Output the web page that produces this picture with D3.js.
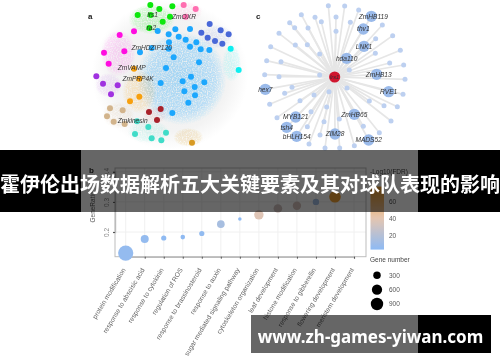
<!DOCTYPE html>
<html>
<head>
<meta charset="utf-8">
<script src="https://cdn.jsdelivr.net/npm/d3@7"></script>
<style>
  html, body { margin: 0; padding: 0; background: #fff; }
  svg { display: block; }
  text { font-family: "Liberation Sans", Arial, sans-serif; }
</style>
</head>
<body>
<div class="canvas"></div>
<script>
const titleText = "霍伊伦出场数据解析五大关键要素及其对球队表现的影响";
const siteText = "www.zh-games-yiwan.com";

// panel a: modules of the co-expression network (layout units)
const moduleNames = ["green", "pink", "sky", "slate", "cyan", "magenta", "purple", "orange", "tan", "red", "teal", "gold"];
const moduleColors = ["#0be80b", "#ff6eb0", "#1ea7fd", "#4a68d8", "#10eef0", "#ff10e0", "#a030e0", "#f7a010", "#d2b48c", "#a8202c", "#40dcc8", "#d89a20"];
const moduleNodes = [
  [[211, 15], [238, 27], [277, 19], [173, 45], [270, 50], [248, 65], [212, 45], [208, 84]],
  [[311, 15], [347, 27], [317, 50]],
  [[233, 93], [266, 103], [286, 88], [330, 87], [296, 110], [317, 119], [349, 127], [267, 127], [330, 140], [362, 148], [388, 150], [266, 146], [215, 144], [180, 157], [281, 172], [357, 187], [258, 204], [333, 230], [308, 244], [242, 249], [373, 247], [344, 261], [313, 274], [345, 286], [325, 308], [277, 339]],
  [[389, 72], [422, 91], [446, 103], [364, 98], [383, 113], [405, 123], [427, 131]],
  [[452, 146], [476, 210]],
  [[119, 105], [162, 94], [72, 158], [133, 154], [86, 191]],
  [[49, 229], [69, 251], [113, 256], [93, 283]],
  [[162, 206], [178, 236], [150, 304], [178, 290]],
  [[90, 325], [128, 331], [81, 349], [101, 365], [134, 372]],
  [[207, 336], [242, 327], [231, 360]],
  [[171, 364], [205, 381], [165, 402], [258, 398], [215, 415], [244, 421]],
  [[336, 428]]
];
// soft clouds of the many tiny genes: module, centre x, centre y, rx, ry, strength
const moduleClouds = [
  ["sky", 305, 235, 135, 140, 0.36],
  ["green", 215, 58, 70, 45, 0.2],
  ["pink", 320, 35, 48, 30, 0.14],
  ["magenta", 115, 160, 52, 70, 0.15],
  ["purple", 85, 255, 40, 36, 0.12],
  ["orange", 178, 275, 52, 65, 0.2],
  ["tan", 115, 345, 48, 40, 0.18],
  ["slate", 410, 110, 48, 36, 0.12],
  ["cyan", 455, 190, 28, 55, 0.16],
  ["teal", 205, 395, 62, 34, 0.16],
  ["gold", 325, 412, 45, 28, 0.22],
  ["red", 225, 345, 36, 25, 0.08]
];
const networkLabels = ["lrs1", "ZmOXR", "ra2", "ZmHDZIP120", "ZmVAMP", "ZmPRP4K", "Zmkinesin"];
const networkLabelSpots = [[218, 45], [312, 50], [214, 84], [215, 143], [155, 204], [174, 236], [158, 362]];

// panel c: star network around the hub
const hub = { name: "lrs1", at: [254, 231] };
const bigNames = ["ZmHB119", "thv1", "LNK1", "hda110", "ZmHB13", "RVE1", "ZmHB65", "MADS52", "ZIM28", "bHLH154", "tsh4", "MYB121", "hex7"];
const bigNodes = [[364, 49], [340, 87], [342, 139], [290, 175], [380, 223], [416, 275], [313, 343], [356, 420], [255, 402], [140, 409], [110, 382], [137, 351], [46, 268]];
const smallNodes = [
  [235, 17], [284, 18], [326, 30], [154, 44], [119, 68], [87, 100], [62, 140], [50, 182], [44, 224], [59, 313], [81, 353],
  [397, 75], [428, 107], [451, 151], [461, 195], [465, 238], [459, 283], [442, 320], [423, 363], [388, 398], [177, 432], [225, 444], [269, 444], [313, 437],
  [195, 52], [258, 51], [214, 65], [301, 67], [134, 83], [174, 84], [258, 94], [136, 135], [172, 134], [209, 162], [93, 185], [87, 230],
  [126, 262], [150, 302], [104, 280], [377, 116], [376, 160], [419, 189], [298, 210], [209, 225], [291, 264], [237, 275], [192, 285],
  [358, 303], [230, 321], [402, 317], [183, 335], [268, 357], [222, 365], [340, 379], [172, 380], [210, 405]
];

// panel b: GO enrichment bubbles
const goTerms = ["protein modification", "response to abscisic acid", "response to cytokinin", "regulation of ROS", "response to brassinosteroid", "response to auxin", "sugar mediated signaling pathway", "cytoskeleton organization", "leaf development", "histone modification", "response to gibberellin", "flowering development", "meristem development"];
const geneRatio = [0.13, 0.177, 0.18, 0.183, 0.195, 0.226, 0.243, 0.257, 0.278, 0.287, 0.3, 0.317, null];
const geneCount = [1545, 430, 180, 140, 180, 390, 85, 590, 500, 470, 270, 900, null];
const logFdr = [6, 6, 4, 4, 5, 14, 3, 38, 32, 34, 12, 75, null];
const ratioTicks = [0.2, 0.3, 0.4];
const fdrTicks = [20, 40, 60];
const sizeTicks = [300, 600, 900];

const svg = d3.select(".canvas").append("svg").attr("width", 500).attr("height", 362);
const defs = svg.append("defs");

// speckle so the gene clouds read as dots instead of flat blobs
const speckle = defs.append("filter").attr("id", "speckle").attr("x", "-10%").attr("y", "-10%").attr("width", "120%").attr("height", "120%");
speckle.append("feTurbulence").attr("type", "fractalNoise").attr("baseFrequency", 0.8).attr("numOctaves", 1).attr("seed", 4).attr("result", "n");
speckle.append("feColorMatrix").attr("in", "n").attr("type", "matrix")
  .attr("values", "0 0 0 0 0  0 0 0 0 0  0 0 0 0 0  0 0 0 3 -0.7").attr("result", "m");
speckle.append("feComposite").attr("in", "SourceGraphic").attr("in2", "m").attr("operator", "in");

const soft = defs.append("filter").attr("id", "soft");
soft.append("feGaussianBlur").attr("stdDeviation", 0.45);

const module = d3.scaleOrdinal(moduleNames, moduleColors);

const haloGrad = defs.append("radialGradient").attr("id", "halo");
haloGrad.append("stop").attr("offset", "0%").attr("stop-color", "#eeeeee");
haloGrad.append("stop").attr("offset", "75%").attr("stop-color", "#f3f3f3");
haloGrad.append("stop").attr("offset", "100%").attr("stop-color", "#ffffff");

moduleClouds.forEach(c => {
  const grad = defs.append("radialGradient").attr("id", `cloud-${c[0]}`);
  grad.append("stop").attr("offset", "0%").attr("stop-color", module(c[0])).attr("stop-opacity", c[5]);
  grad.append("stop").attr("offset", "75%").attr("stop-color", module(c[0])).attr("stop-opacity", c[5] * 0.75);
  grad.append("stop").attr("offset", "100%").attr("stop-color", module(c[0])).attr("stop-opacity", 0);
});

const picture = svg.append("g").attr("filter", "url(#soft)");

// ---- panel a ----
const ax = d3.scaleLinear().domain([0, 510]).range([80, 250]);
const ay = d3.scaleLinear().domain([0, 450]).range([0, 150]);
const panelA = picture.append("g");

panelA.append("ellipse")
  .attr("cx", ax(270)).attr("cy", ay(225))
  .attr("rx", ax(235) - ax(0)).attr("ry", ay(225) - ay(0))
  .attr("fill", "url(#halo)");

panelA.append("g").attr("filter", "url(#speckle)")
  .selectAll("ellipse").data(moduleClouds).join("ellipse")
  .attr("cx", d => ax(d[1])).attr("cy", d => ay(d[2]))
  .attr("rx", d => ax(d[3]) - ax(0)).attr("ry", d => ay(d[4]) - ay(0))
  .attr("fill", d => `url(#cloud-${d[0]})`);

moduleNames.forEach((name, i) => {
  panelA.append("g").selectAll("circle").data(moduleNodes[i]).join("circle")
    .attr("cx", d => ax(d[0])).attr("cy", d => ay(d[1]))
    .attr("r", 3)
    .attr("fill", module(name));
});

panelA.append("g").selectAll("text").data(networkLabels).join("text")
  .attr("x", (d, i) => ax(networkLabelSpots[i][0]))
  .attr("y", (d, i) => ay(networkLabelSpots[i][1]) + 2.3)
  .attr("text-anchor", "middle")
  .attr("font-size", 6.6).attr("font-style", "italic").attr("fill", "#333")
  .text(d => d);

picture.append("text").attr("x", 88).attr("y", 19).attr("font-size", 8).attr("font-weight", "bold").attr("fill", "#222").text("a");

// ---- panel c ----
const cx = d3.scaleLinear().domain([0, 510]).range([250, 420]);
const cy = d3.scaleLinear().domain([0, 450]).range([0, 150]);
const panelC = picture.append("g");

panelC.append("g").selectAll("line").data(smallNodes.concat(bigNodes)).join("line")
  .attr("x1", cx(hub.at[0])).attr("y1", cy(hub.at[1]))
  .attr("x2", d => cx(d[0])).attr("y2", d => cy(d[1]))
  .attr("stroke", "#e6e6e6").attr("stroke-width", 1.7);

panelC.append("g").selectAll("circle").data(smallNodes).join("circle")
  .attr("cx", d => cx(d[0])).attr("cy", d => cy(d[1]))
  .attr("r", 2.5).attr("fill", "#bdd0f0");

panelC.append("g").selectAll("circle").data(bigNodes).join("circle")
  .attr("cx", d => cx(d[0])).attr("cy", d => cy(d[1]))
  .attr("r", 5.7).attr("fill", "#9abaea");

panelC.append("circle")
  .attr("cx", cx(hub.at[0])).attr("cy", cy(hub.at[1]))
  .attr("r", 5.6).attr("fill", "#d0122e");

panelC.append("g").selectAll("text").data(bigNames).join("text")
  .attr("x", (d, i) => cx(bigNodes[i][0]) + (d === "ZmHB119" ? 2 : d === "ZmHB13" ? 2 : 0))
  .attr("y", (d, i) => cy(bigNodes[i][1]) + 2.3)
  .attr("text-anchor", "middle")
  .attr("font-size", 6.6).attr("font-style", "italic").attr("fill", "#333")
  .text(d => d);

panelC.append("text")
  .attr("x", cx(hub.at[0])).attr("y", cy(hub.at[1]) + 2)
  .attr("text-anchor", "middle").attr("font-size", 5.8).attr("font-style", "italic").attr("fill", "#333")
  .text(hub.name);

picture.append("text").attr("x", 256).attr("y", 19).attr("font-size", 8).attr("font-weight", "bold").attr("fill", "#222").text("c");

// ---- panel b ----
const plot = { left: 115, right: 366, top: 168, bottom: 256.7 };
const x = d3.scalePoint().domain(goTerms).range([125.7, 354]);
const y = d3.scaleLinear().domain([0.2, 0.4]).range([232, 171.8]);
const r = d3.scaleSqrt().domain([0, 900]).range([0, 5.8]);
const fdrColor = d3.scaleLinear().domain([3, 40, 80]).range(["#8dbaf4", "#e4c6b2", "#f09a20"]);
const fdrY = d3.scaleLinear().domain([20, 60]).range([235.3, 201.7]);

const panelB = picture.append("g");

panelB.append("g").selectAll("line").data(goTerms).join("line")
  .attr("x1", d => x(d)).attr("x2", d => x(d))
  .attr("y1", plot.top).attr("y2", plot.bottom)
  .attr("stroke", "#f0f0f0");
panelB.append("g").selectAll("line").data(ratioTicks).join("line")
  .attr("x1", plot.left).attr("x2", plot.right)
  .attr("y1", d => y(d)).attr("y2", d => y(d))
  .attr("stroke", "#f0f0f0");

panelB.append("rect")
  .attr("x", plot.left).attr("y", plot.top)
  .attr("width", plot.right - plot.left).attr("height", plot.bottom - plot.top)
  .attr("fill", "none").attr("stroke", "#bdbdbd").attr("stroke-width", 1);

const yAxis = panelB.append("g")
  .attr("transform", `translate(${plot.left},0)`)
  .call(d3.axisLeft(y).tickValues(ratioTicks).tickSize(2).tickFormat(d3.format(".1f")));
yAxis.select(".domain").attr("stroke", "#bbb").attr("stroke-width", 1.4);
yAxis.selectAll(".tick line").attr("stroke", "#555");
yAxis.selectAll(".tick text")
  .attr("transform", "translate(-6,0) rotate(-90)")
  .attr("x", 0).attr("y", 0).attr("dy", 0)
  .attr("text-anchor", "middle")
  .attr("font-size", 6.5).attr("font-family", "Liberation Sans").attr("fill", "#888");

const xAxis = panelB.append("g")
  .attr("transform", `translate(0,${plot.bottom})`)
  .call(d3.axisBottom(x).tickSize(2));
xAxis.select(".domain").attr("stroke", "#bbb").attr("stroke-width", 1.4);
xAxis.selectAll(".tick line").attr("stroke", "#555");
xAxis.selectAll(".tick text")
  .attr("transform", "translate(-2,12) rotate(-59)")
  .attr("x", 0).attr("y", 0).attr("dy", "0.3em")
  .attr("text-anchor", "end")
  .attr("font-size", 6.7).attr("font-family", "Liberation Sans").attr("fill", "#666");

panelB.append("text")
  .attr("transform", "translate(95,207) rotate(-90)")
  .attr("text-anchor", "middle").attr("font-size", 6.5).attr("fill", "#555")
  .text("GeneRatio");

panelB.append("text").attr("x", 89).attr("y", 173).attr("font-size", 8).attr("font-weight", "bold").attr("fill", "#222").text("b");

panelB.append("g").selectAll("circle").data(goTerms.map((d, i) => i).filter(i => geneRatio[i] !== null)).join("circle")
  .attr("cx", i => x(goTerms[i]))
  .attr("cy", i => y(geneRatio[i]))
  .attr("r", i => r(geneCount[i]))
  .attr("fill", i => fdrColor(logFdr[i]));

// legends
const barGrad = defs.append("linearGradient").attr("id", "fdr-bar").attr("x1", 0).attr("x2", 0).attr("y1", 1).attr("y2", 0);
d3.range(0, 1.01, 0.1).forEach(t => {
  barGrad.append("stop").attr("offset", t).attr("stop-color", fdrColor(3 + t * 75));
});
panelB.append("rect").attr("x", 370.5).attr("y", fdrY(78)).attr("width", 13.5).attr("height", fdrY(3) - fdrY(78)).attr("fill", "url(#fdr-bar)");
panelB.append("text").attr("x", 370).attr("y", 174).attr("font-size", 6.5).attr("fill", "#444").text("-Log10(FDR)");
panelB.append("g").selectAll("text").data(fdrTicks).join("text")
  .attr("x", 389).attr("y", d => fdrY(d) + 2.3)
  .attr("font-size", 6.5).attr("fill", "#555").text(d => d);

panelB.append("text").attr("x", 370).attr("y", 262).attr("font-size", 6.5).attr("fill", "#444").text("Gene number");
const sizeY = d3.scalePoint().domain(sizeTicks).range([275.3, 304]);
panelB.append("g").selectAll("circle").data(sizeTicks).join("circle")
  .attr("cx", 377).attr("cy", d => sizeY(d)).attr("r", d => r(d) + 0.4).attr("fill", "#000");
panelB.append("g").selectAll("text").data(sizeTicks).join("text")
  .attr("x", 389).attr("y", d => sizeY(d) + 2.3)
  .attr("font-size", 6.5).attr("fill", "#555").text(d => d);

// ---- title band and site badge on top of the picture ----
svg.append("rect").attr("x", 0).attr("y", 150).attr("width", 81).attr("height", 62).attr("fill", "#000");
svg.append("rect").attr("x", 418).attr("y", 150).attr("width", 82).attr("height", 62).attr("fill", "#000");
svg.append("rect").attr("x", 81).attr("y", 150).attr("width", 337).attr("height", 62).attr("fill", "#000").attr("opacity", 0.6);

svg.append("text")
  .attr("x", 250).attr("y", 192)
  .attr("text-anchor", "middle")
  .style("font-family", '"Noto Sans CJK SC"')
  .attr("font-size", 20).attr("font-weight", "bold").attr("fill", "#fff")
  .text(titleText);

svg.append("rect").attr("x", 251).attr("y", 315).attr("width", 167).attr("height", 38).attr("fill", "#000").attr("opacity", 0.6);
svg.append("rect").attr("x", 418).attr("y", 315).attr("width", 73).attr("height", 38).attr("fill", "#000");

svg.append("text")
  .attr("x", 370.5).attr("y", 343)
  .attr("text-anchor", "middle")
  .style("font-family", '"Noto Sans"')
  .attr("font-size", 17).attr("font-weight", "bold").attr("fill", "#fff")
  .text(siteText);
</script>
</body>
</html>
